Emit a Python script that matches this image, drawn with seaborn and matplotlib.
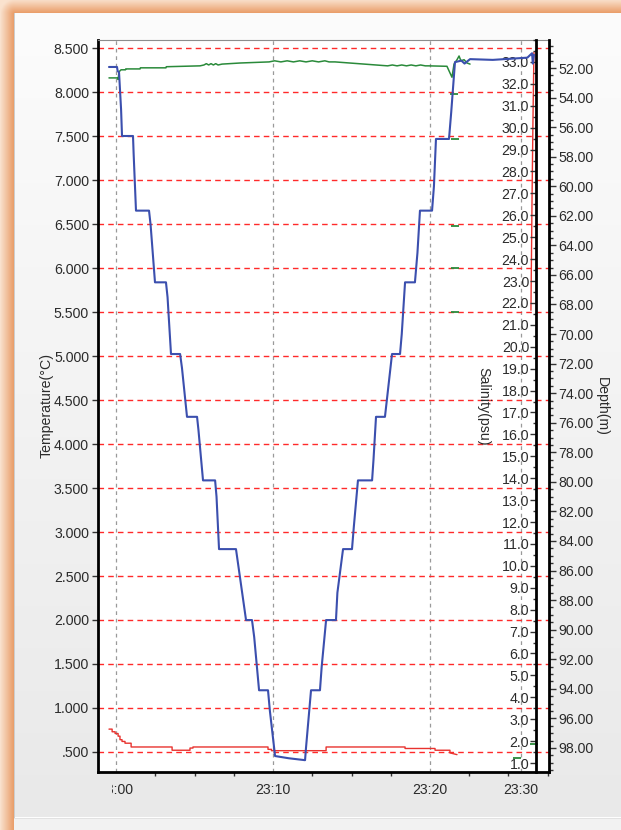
import numpy as np
import pandas as pd
import matplotlib
matplotlib.use("Agg")
import matplotlib.pyplot as plt
import seaborn as sns
from matplotlib.ticker import FixedLocator, MultipleLocator
from matplotlib.transforms import Bbox

sns.set_style("white")
plt.rcParams["font.family"] = ["Liberation Sans", "DejaVu Sans"]

# ---- CTD cast data, x in minutes after 23:00 ----
# Temperature (degC): in-water record, then the recovery spike on deck
temp_min = [-0.45, -0.25, -0.25, -0.06, -0.06, 0.13, 0.13, 0.25, 0.25, 0.38, 0.38,
            0.57, 0.57, 0.96, 0.96, 3.57, 3.57, 4.71, 4.71, 4.90, 4.90, 9.68,
            9.68, 9.90, 9.90, 13.38, 13.38, 18.41, 18.41, 20.32, 20.32, 21.27,
            21.27, 21.72]
temp_val = [0.76, 0.76, 0.73, 0.73, 0.71, 0.71, 0.68, 0.68, 0.64, 0.64, 0.62,
            0.62, 0.60, 0.60, 0.557, 0.557, 0.52, 0.52, 0.545, 0.545, 0.557, 0.557,
            0.53, 0.53, 0.515, 0.515, 0.557, 0.557, 0.54, 0.54, 0.52, 0.52,
            0.49, 0.47]
temp_deck_min = [26.43, 26.50, 26.56, 26.62]
temp_deck_val = [5.52, 6.80, 7.70, 8.45]

# Salinity (psu)
sal_min = [-0.45, 0.10, 0.13, 0.19, 0.32, 0.60, 0.62, 1.53, 1.55, 3.18, 3.20,
           5.35, 5.60, 5.75, 5.90, 6.05, 6.20, 6.35, 6.50, 6.75, 7.90, 9.75,
           10.10, 10.50, 10.90, 11.30, 11.70, 12.10, 12.50, 12.90, 13.30, 13.57,
           13.95, 17.30, 17.60, 17.90, 18.20, 18.50, 18.80, 19.10, 19.40, 19.70,
           19.90, 21.08, 21.27, 21.40, 21.53, 21.72, 21.85, 21.97, 22.17, 22.36,
           22.55]
sal_val = [32.27, 32.27, 32.20, 32.55, 32.64, 32.64, 32.68, 32.68, 32.73, 32.73,
           32.78, 32.82, 32.86, 32.92, 32.86, 32.92, 32.86, 32.92, 32.86, 32.90,
           32.95, 33.00, 33.05, 33.00, 33.05, 33.00, 33.05, 33.00, 33.05, 33.00,
           33.05, 33.00, 33.00, 32.82, 32.86, 32.82, 32.86, 32.82, 32.86, 32.82,
           32.86, 32.82, 32.82, 32.80, 32.50, 32.30, 32.90, 33.10, 33.27, 33.05,
           33.10, 32.95, 32.90]
sal_spot_min = [21.50, 21.60, 21.60, 21.60, 21.60, 25.55, 26.60]
sal_spot_val = [31.55, 29.50, 25.50, 23.60, 21.60, 1.25, 1.85]

# Depth (m): stepped descent to ~98.8 m and stepped recovery
depth_min = [-0.45, 0.06, 0.10, 0.19, 0.32, 0.38, 1.08, 1.12, 1.27, 2.10, 2.20,
             2.48, 3.18, 3.28, 3.50, 4.08, 4.20, 4.52, 5.16, 5.25, 5.54, 6.31,
             6.40, 6.56, 7.64, 7.90, 8.28, 8.66, 8.80, 9.11, 9.68, 9.80, 10.13,
             11.00, 12.04, 12.10, 12.42, 12.99, 13.10, 13.38, 14.01, 14.10, 14.46,
             15.03, 15.15, 15.41, 16.31, 16.40, 16.56, 17.13, 17.30, 17.58, 18.09,
             18.20, 18.41, 19.04, 19.20, 19.36, 20.13, 20.25, 20.38, 21.21, 21.35,
             21.59, 22.00, 22.20, 22.55, 24.00, 26.20, 26.40, 26.50, 26.55, 26.62]
depth_val = [51.93, 51.93, 52.20, 52.30, 54.80, 56.60, 56.60, 57.80, 61.65, 61.65,
             62.60, 66.50, 66.50, 67.50, 71.35, 71.35, 72.30, 75.60, 75.60, 76.50,
             79.90, 79.90, 81.00, 84.55, 84.55, 86.50, 89.35, 89.35, 90.50, 94.10,
             94.10, 95.50, 98.55, 98.70, 98.83, 98.00, 94.10, 94.10, 92.50, 89.35,
             89.35, 87.50, 84.55, 84.55, 83.00, 79.90, 79.90, 78.50, 75.60, 75.60,
             74.00, 71.35, 71.35, 70.00, 66.50, 66.50, 64.50, 61.65, 61.65, 60.00,
             56.80, 56.80, 55.00, 51.60, 51.50, 51.70, 51.40, 51.45, 51.30, 51.10,
             51.00, 51.70, 51.10]

# Axis ticks
time_ticks = [0.0, 10.0, 20.0, 25.8]
time_labels = ["23:00", "23:10", "23:20", "23:30"]
temp_ticks = np.arange(0.5, 8.51, 0.5)
sal_ticks = np.arange(1.0, 33.01, 1.0)
depth_ticks = np.arange(52.0, 98.01, 2.0)

temp_df = pd.DataFrame({
    "minute": temp_min + temp_deck_min,
    "temperature": temp_val + temp_deck_val,
    "seg": [0] * len(temp_min) + [1] * len(temp_deck_min),
})
sal_df = pd.DataFrame({"minute": sal_min, "salinity": sal_val})
sal_spot_df = pd.DataFrame({"minute": sal_spot_min, "salinity": sal_spot_val})
depth_df = pd.DataFrame({"minute": depth_min, "depth": depth_val})

W, H, DPI = 621, 830, 100
fig = plt.figure(figsize=(W / DPI, H / DPI), dpi=DPI)

# ---- window backdrop: grey panel with an orange glow on top/left ----
yy, xx = np.mgrid[0:H, 0:W].astype(float)
edge = 14.0
panel_top = np.array([252, 252, 252], float)
panel_bot = np.array([233, 233, 233], float)
frac = np.clip((yy - edge) / (818 - edge), 0, 1)[..., None]
img = panel_top * (1 - frac) + panel_bot * frac
dx = np.clip(edge - xx, 0, None)
dy = np.clip(edge - yy, 0, None)
dist = np.sqrt(dx ** 2 + dy ** 2)
outside = (xx < edge) | (yy < edge)
t = np.clip(1 - dist / edge, 0, 1)[..., None]
glow_out = np.array([250, 226, 206], float)
glow_in = np.array([233, 154, 100], float)
glow = glow_out * (1 - t) + glow_in * t
img = np.where(outside[..., None], glow, img)
img[817, int(edge):] = [255, 255, 255]
img[818, int(edge):] = [226, 226, 226]
img[819:, int(edge):] = [242, 242, 242]
img[int(edge):818, int(edge)] = [205, 205, 205]
bg = fig.add_axes([0, 0, 1, 1], zorder=-10)
bg.imshow(img.astype(np.uint8), aspect="auto", interpolation="bilinear")
bg.axis("off")

# ---- main axes (temperature) ----
left, right, top, bottom = 98, 549, 40, 772
ax = fig.add_axes([left / W, 1 - bottom / H, (right - left) / W, (bottom - top) / H])
ax.set_facecolor("white")
fs = 10.2
tick_color = "#2b2b2b"

ax.set_xlim(-1.15, 27.58)
ax.set_ylim(0.2727, 8.591)

ax.grid(axis="y", color="#ff2a2a", linestyle=(0, (4, 3)), linewidth=1.0)
ax.grid(axis="x", color="#9a9a9a", linestyle=(0, (3, 3)), linewidth=0.9)
ax.set_axisbelow(True)

sns.lineplot(data=temp_df, x="minute", y="temperature", units="seg",
             estimator=None, sort=False, ax=ax, color="#e8322e", linewidth=1.0)

ax.xaxis.set_major_locator(FixedLocator(time_ticks))
ax.set_xticklabels(time_labels)
ax.xaxis.set_minor_locator(MultipleLocator(2.5))
ax.yaxis.set_major_locator(FixedLocator(temp_ticks))
ax.set_yticklabels([f"{v:.3f}".lstrip("0") for v in temp_ticks])
ax.tick_params(axis="both", which="major", direction="out", length=4, width=1,
               color="#333333", labelsize=fs, labelcolor=tick_color, pad=2.5)
ax.tick_params(axis="x", which="minor", direction="out", length=3, width=1,
               color="#333333", bottom=True)
ax.tick_params(axis="x", which="major", pad=4)
ax.set_xlabel("")
ax.set_ylabel("Temperature(°C)", fontsize=fs, color=tick_color, labelpad=0)

for side in ("left", "bottom"):
    ax.spines[side].set_linewidth(2.0)
    ax.spines[side].set_color("black")
ax.spines["top"].set_linewidth(0.8)
ax.spines["top"].set_color("#8c8c8c")
ax.spines["right"].set_visible(False)

# ---- salinity axis: spine inside the plot, labels to its left ----
ax_sal = ax.twinx()
ax_sal.set_ylim(0.59, 34.0)
sns.lineplot(data=sal_df, x="minute", y="salinity", estimator=None, sort=False,
             ax=ax_sal, color="#2a8a3a", linewidth=1.1)
sns.scatterplot(data=sal_spot_df, x="minute", y="salinity", ax=ax_sal,
                marker="_", s=30, linewidth=1.3, color="#2a8a3a")
sal_pos = (536 - left) / (right - left)
ax_sal.spines["left"].set_position(("axes", sal_pos))
ax_sal.spines["left"].set_visible(True)
ax_sal.spines["left"].set_linewidth(2.0)
ax_sal.spines["left"].set_color("black")
for side in ("right", "top", "bottom"):
    ax_sal.spines[side].set_visible(False)
ax_sal.yaxis.tick_left()
ax_sal.yaxis.set_label_position("left")
ax_sal.yaxis.set_major_locator(FixedLocator(sal_ticks))
ax_sal.set_yticklabels([f"{v:.1f}" for v in sal_ticks])
ax_sal.yaxis.set_minor_locator(MultipleLocator(0.5))
ax_sal.tick_params(axis="y", which="major", direction="out", length=4, width=1,
                   color="#333333", labelsize=fs, labelcolor=tick_color, pad=1)
ax_sal.tick_params(axis="y", which="minor", direction="out", length=2.5, width=1,
                   color="#333333")
ax_sal.set_xlabel("")
ax_sal.set_ylabel("Salinity(psu)", fontsize=fs, color=tick_color, rotation=270,
                  va="top", labelpad=8)

# ---- depth axis on the right, inverted ----
ax_dep = ax.twinx()
ax_dep.set_ylim(99.63, 50.105)
sns.lineplot(data=depth_df, x="minute", y="depth", estimator=None, sort=False,
             ax=ax_dep, color="#3b4fae", linewidth=1.5)
ax_dep.spines["right"].set_linewidth(2.0)
ax_dep.spines["right"].set_color("black")
for side in ("left", "top", "bottom"):
    ax_dep.spines[side].set_visible(False)
ax_dep.yaxis.set_major_locator(FixedLocator(depth_ticks))
ax_dep.set_yticklabels([f"{v:.2f}" for v in depth_ticks])
ax_dep.yaxis.set_minor_locator(MultipleLocator(0.5))
ax_dep.tick_params(axis="y", which="major", direction="out", length=5, width=1,
                   color="#333333", labelsize=fs, labelcolor=tick_color, pad=2)
ax_dep.tick_params(axis="y", which="minor", direction="out", length=3, width=1,
                   color="#333333")
ax_dep.set_xlabel("")
ax_dep.set_ylabel("Depth(m)", fontsize=fs, color=tick_color, rotation=270,
                  va="bottom", labelpad=1)
ax_dep.set_xlim(-1.15, 27.58)

# the first time label sits under the left frame and is cut off there
fig.canvas.draw()
first = ax.get_xticklabels()[0]
first.set_clip_box(Bbox([[112, 0], [W, H]]))
first.set_clip_on(True)

fig.savefig("out.png", dpi=DPI)
